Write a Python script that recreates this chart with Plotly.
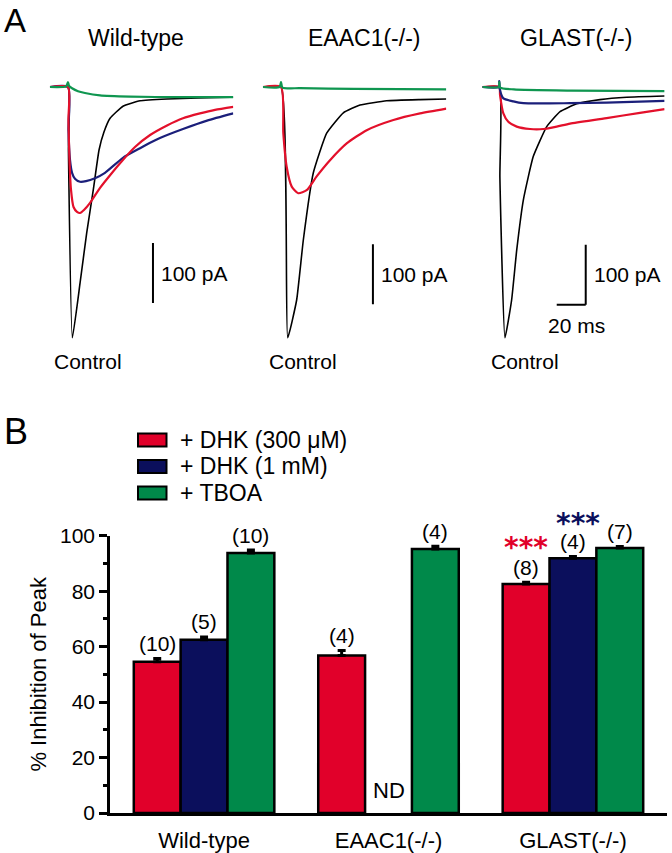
import plotly.graph_objects as go

W, H = 672, 853
FONT = "Liberation Sans, Arial, Helvetica, sans-serif"

# ---------------- Panel A: traces (ms after stimulus, pA) ----------------
wt_ctrl_t = [-12.5, 0, 0.3, 3.0, 8.3, 12.9, 17.4, 21.4, 24.8, 29.0, 37.9, 49.7, 68.3, 111.7, 114]
wt_ctrl_i = [0, 0, -105, -418, -327, -243, -172, -105, -75, -52, -32, -23, -20, -17, -17]
wt_dhk300_t = [-12.5, 0, 0.3, 1.0, 2.1, 3.8, 6.2, 8.3, 11.0, 15.2, 22.1, 29.0, 35.9, 46.2, 56.6,
               68.3, 79.3, 91.0, 101.4, 114]
wt_dhk300_i = [0, 0, -55, -122, -172, -200, -208, -210, -205, -193, -168, -147, -127, -100, -80,
               -64, -52, -44, -38, -33]
wt_dhk1_t = [-12.5, 0, 0.3, 1.4, 2.8, 4.8, 8.3, 12.4, 18.6, 25.5, 37.9, 49.7, 56.6, 63.4, 79.3,
             95.9, 114]
wt_dhk1_i = [0, 0, -72, -122, -143, -153, -158, -157, -152, -143, -118, -102, -93, -85, -70,
             -56, -44]
wt_tboa_t = [-12.5, -1.4, 0, 0.7, 2.8, 6.9, 11.7, 22.1, 42.8, 77.2, 114]
wt_tboa_i = [0, 1, 8, 2, -2, -7, -10, -14, -16, -17, -17]

ea_ctrl_t = [-12.5, 0, 4.6, 10.8, 15.4, 22.3, 31.5, 43.0, 54.5, 72.9, 95.9, 114]
ea_ctrl_i = [0, 0, -418, -355, -255, -143, -77, -43, -30, -23, -21, -20]
ea_dhk300_t = [-12.5, 0, 1.6, 3.9, 7.4, 11.9, 17.7, 24.6, 33.8, 45.3, 59.1, 77.5, 95.9, 114]
ea_dhk300_i = [0, 0, -77, -133, -166, -177, -172, -149, -122, -94, -72, -55, -44, -36]
ea_tboa_t = [-12.5, -1.0, 0, 1.0, 13.0, 50.0, 114]
ea_tboa_i = [0, 0, 8, -1, -2, -3, -4]

gl_ctrl_t = [-11.5, 0, 0.4, 3.9, 8.5, 12.0, 16.6, 23.4, 32.7, 41.9, 53.4, 69.4, 87.9, 114]
gl_ctrl_i = [0, 0, -150, -418, -355, -272, -188, -116, -66, -41, -28, -21, -17, -15]
gl_dhk300_t = [-11.5, 0, 0.5, 2.8, 6.2, 12.0, 21.2, 30.4, 39.6, 48.8, 74.0, 97.0, 114]
gl_dhk300_i = [0, 0, -13, -44, -58, -66, -70, -70, -66, -61, -52, -43, -37]
gl_dhk1_t = [-11.5, -0.3, 0, 0.5, 2.8, 9.7, 16.6, 48.8, 74.0, 114]
gl_dhk1_i = [0, 0, 10, -5, -19, -24, -27, -27, -26, -23]
gl_tboa_t = [-11.5, -0.3, 0, 0.5, 10.0, 50.0, 114]
gl_tboa_i = [0, 0, 8, -1, -4, -6, -7]

# ---------------- Panel B: % inhibition of peak ----------------
genotypes = ["Wild-type", "EAAC1(-/-)", "GLAST(-/-)"]
dhk300_pct = [54.5, 56.8, 82.6]
dhk300_err = [1.2, 1.8, 0.6]
dhk300_n = ["(10)", "(4)", "(8)"]
dhk1_pct = [62.5, None, 91.9]
dhk1_err = [1.0, 0, 0.6]
dhk1_n = ["(5)", "ND", "(4)"]
tboa_pct = [93.8, 95.2, 95.6]
tboa_err = [1.0, 1.0, 0.5]
tboa_n = ["(10)", "(4)", "(7)"]
legend_names = ["+ DHK (300 \u03bcM)", "+ DHK (1 mM)", "+ TBOA"]

RED, NAVY, GREEN = "#E1002A", "#0B0F5C", "#00894A"
TR_RED, TR_BLUE, TR_GREEN = "#E3102B", "#1B1F7A", "#0F9650"


def fx(p):
    return p / W


def fy(p):
    return 1 - p / H


# panel A geometry (pixels)
STIM_PX = [68, 281, 499.3]
MS_PX, PA_PX, BASE_PX = 1.45, 0.6, 87
T_RANGE = [-12.5, 114]
I_RANGE = [-425, 45]

fig = go.Figure()

panels = [
    [(wt_ctrl_t, wt_ctrl_i, "black"), (wt_dhk1_t, wt_dhk1_i, TR_BLUE),
     (wt_dhk300_t, wt_dhk300_i, TR_RED), (wt_tboa_t, wt_tboa_i, TR_GREEN)],
    [(ea_ctrl_t, ea_ctrl_i, "black"), (ea_dhk300_t, ea_dhk300_i, TR_RED),
     (ea_tboa_t, ea_tboa_i, TR_GREEN)],
    [(gl_ctrl_t, gl_ctrl_i, "black"), (gl_dhk300_t, gl_dhk300_i, TR_RED),
     (gl_dhk1_t, gl_dhk1_i, TR_BLUE), (gl_tboa_t, gl_tboa_i, TR_GREEN)],
]
layout_axes = {}
for k, traces in enumerate(panels):
    sfx = "" if k == 0 else str(k + 1)
    for t, i, col in traces:
        fig.add_trace(go.Scatter(
            x=t, y=i, mode="lines", xaxis="x" + sfx, yaxis="y" + sfx,
            line=dict(color=col, width=1.6 if col == "black" else 2.2,
                      shape="spline", smoothing=0.4 if col == "black" else 0.6),
            showlegend=False, hoverinfo="skip"))
    x0 = STIM_PX[k]
    layout_axes["xaxis" + sfx] = dict(
        domain=[fx(x0 + T_RANGE[0] * MS_PX), fx(x0 + T_RANGE[1] * MS_PX)],
        range=T_RANGE, visible=False, anchor="y" + sfx, automargin=False)
    layout_axes["yaxis" + sfx] = dict(
        domain=[fy(BASE_PX - I_RANGE[0] * PA_PX), fy(BASE_PX - I_RANGE[1] * PA_PX)],
        range=I_RANGE, visible=False, anchor="x" + sfx, automargin=False)

# panel B bars
bar_sets = [(dhk300_pct, dhk300_err, RED, legend_names[0]),
            (dhk1_pct, dhk1_err, NAVY, legend_names[1]),
            (tboa_pct, tboa_err, GREEN, legend_names[2])]
for vals, errs, col, name in bar_sets:
    fig.add_trace(go.Bar(
        x=genotypes, y=vals, name=name, xaxis="x4", yaxis="y4",
        marker=dict(color=col, line=dict(color="black", width=2.5)),
        error_y=dict(type="data", array=errs, arrayminus=[0, 0, 0], symmetric=False,
                     color="black", thickness=3, width=4),
        showlegend=False, hoverinfo="skip"))

layout_axes["xaxis4"] = dict(
    domain=[fx(110), fx(667)], range=[-0.51, 2.51], anchor="y4", automargin=False,
    showline=True, linecolor="black", linewidth=2.5, ticks="", showgrid=False,
    tickfont=dict(size=22, color="black"), ticklabelstandoff=6)
layout_axes["yaxis4"] = dict(
    domain=[fy(813), fy(535.7)], range=[0, 100], anchor="x4", automargin=False,
    showline=True, linecolor="black", linewidth=2.5, showgrid=False, zeroline=False,
    tickvals=[0, 20, 40, 60, 80, 100], ticks="outside", ticklen=8, tickwidth=2.5,
    tickcolor="black", tickfont=dict(size=21, color="black"),
    minor=dict(dtick=10, ticks="outside", ticklen=4, tickwidth=2.5, tickcolor="black"),
    title=dict(text="% Inhibition of Peak", font=dict(size=22, color="black"), standoff=8))

shapes = []
annotations = []


def note(text, x, y, size=21, color="black", xanchor="center", yanchor="middle",
         family=FONT, **kw):
    annotations.append(dict(text=text, x=x, y=y, showarrow=False, xanchor=xanchor,
                            yanchor=yanchor, font=dict(size=size, color=color, family=family),
                            **kw))


# panel letters and titles
note("A", fx(2), fy(20), size=33, xanchor="left", xref="paper", yref="paper")
note("B", fx(2), fy(432), size=36, xanchor="left", xref="paper", yref="paper")
for txt, cx in zip(genotypes, [136, 364, 575.5]):
    note(txt, fx(cx), fy(38), size=23, xref="paper", yref="paper")
for cx in [88, 303, 525]:
    note("Control", fx(cx), fy(361), size=21, xref="paper", yref="paper")

# scale bars (100 pA, 20 ms)
bar_specs = [("x", "y", 58.6, -260, -360), ("x2", "y2", 63.4, -262, -362),
             ("x3", "y3", 59.6, -263, -363)]
for xr, yr, bx, ytop, ybot in bar_specs:
    shapes.append(dict(type="line", xref=xr, yref=yr, x0=bx, x1=bx, y0=ytop, y1=ybot,
                       line=dict(color="black", width=2)))
    note("100 pA", bx + 4.5, (ytop + ybot) / 2, size=21, xanchor="left", xref=xr, yref=yr)
shapes.append(dict(type="line", xref="x3", yref="y3", x0=39.6, x1=59.6, y0=-363, y1=-363,
                   line=dict(color="black", width=2)))
note("20 ms", 53, -397, size=21, xref="x3", yref="y3")

# legend for panel B
for k, (name, col) in enumerate(zip(legend_names, [RED, NAVY, GREEN])):
    cy = 440 + k * 26.5
    shapes.append(dict(type="rect", xref="paper", yref="paper", x0=fx(138), x1=fx(166.5),
                       y0=fy(cy + 6.5), y1=fy(cy - 6.5), fillcolor=col,
                       line=dict(color="black", width=2)))
    note(name, fx(178), fy(cy), size=23, xanchor="left", xref="paper", yref="paper")

# n labels above bars
offsets = [-0.254, 0, 0.254]
for j, (vals, errs, labels) in enumerate([(dhk300_pct, dhk300_err, dhk300_n),
                                          (dhk1_pct, dhk1_err, dhk1_n),
                                          (tboa_pct, tboa_err, tboa_n)]):
    for g in range(3):
        v = vals[g]
        if v is None:
            note(labels[g], g + offsets[j], 8, size=22, xref="x4", yref="y4")
        else:
            note(labels[g], g + offsets[j], v + errs[g], size=21, xref="x4", yref="y4",
                 yshift=15)

# significance stars
note("<b>***</b>", 2 - 0.254, 82.6, size=28, color=RED, family="DejaVu Sans",
     xref="x4", yref="y4", yshift=36)
note("<b>***</b>", 2 + 0.025, 91.9, size=28, color=NAVY, family="DejaVu Sans",
     xref="x4", yref="y4", yshift=35)

fig.update_layout(
    template="none",
    width=W, height=H, autosize=False,
    margin=dict(l=0, r=0, t=0, b=0, autoexpand=False),
    paper_bgcolor="white", plot_bgcolor="white",
    font=dict(family=FONT, color="black"),
    barmode="group", bargap=0.238, bargroupgap=0,
    shapes=shapes, annotations=annotations,
    **layout_axes,
)

fig.write_html("out.html", config={"displayModeBar": False},
               post_script="document.body.style.margin = '0px';")
